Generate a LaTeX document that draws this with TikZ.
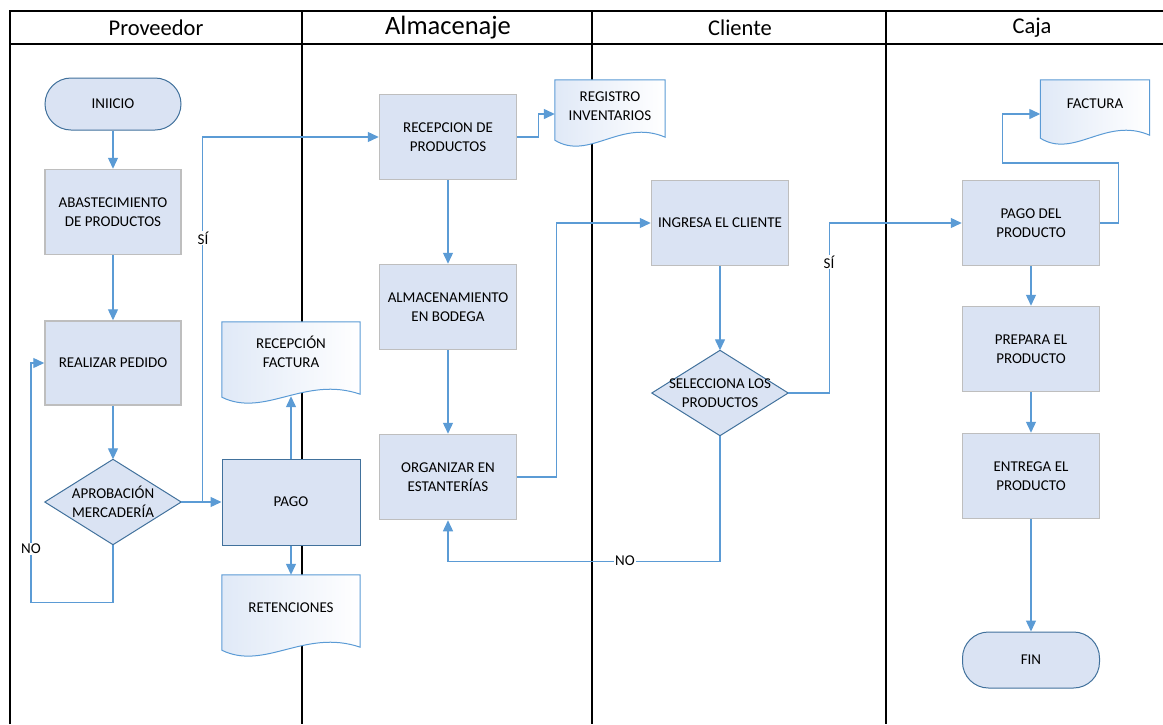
\documentclass[tikz,border=0pt]{standalone}
\usepackage{fontspec}
\setmainfont{Carlito}
\usetikzlibrary{arrows.meta,calc}
\pgfdeclarelayer{background}
\pgfsetlayers{background,main}

\definecolor{boxfill}{RGB}{218,227,243}
\definecolor{boxedge}{RGB}{190,190,190}
\definecolor{flowblue}{RGB}{91,155,213}
\definecolor{darkblue}{RGB}{65,113,156}
\definecolor{docshade}{RGB}{224,233,247}

% wavy document outline behind a text node (#2 = drop of the wave)
\newcommand{\docoutline}[2]{%
  \begin{pgfonlayer}{background}
  \draw[docline] (#1.north west) -- (#1.north east) -- ([yshift=3pt-#2pt]#1.south east)
    .. controls ($(#1.south west)!0.6!(#1.south east)+(0,#2-22)$) and ($(#1.south west)!0.31!(#1.south east)+(0,#2+21)$)
    .. ([yshift=-#2pt]#1.south west) -- cycle;
  \end{pgfonlayer}}

% diamond outline behind a decision node
\newcommand{\diamondoutline}[1]{%
  \begin{pgfonlayer}{background}
  \draw[diamondline] (#1.north) -- (#1.east) -- (#1.south) -- (#1.west) -- cycle;
  \end{pgfonlayer}}

\begin{document}
\begin{tikzpicture}[x=1pt, y=-1pt,
  font=\fontsize{15}{19}\selectfont,
  lane/.style={black, line width=1.2pt},
  head/.style={font=\fontsize{22.5}{26}\selectfont},
  proc/.style={draw=boxedge, fill=boxfill, line width=1.5pt, minimum width=137pt, minimum height=85pt, align=center, inner sep=2pt},
  term/.style={draw=darkblue, fill=boxfill, line width=1pt, rounded corners=26pt, minimum width=136pt, minimum height=52pt},
  decision/.style={minimum width=136pt, minimum height=85pt, align=center, inner sep=0pt},
  docnode/.style={minimum width=138pt, align=center, inner sep=0pt},
  docline/.style={draw=flowblue, line width=1pt, left color=docshade, right color=white},
  diamondline/.style={draw=darkblue, fill=boxfill, line width=1pt},
  flow/.style={draw=flowblue, line width=1.3pt, -{Triangle[length=11pt,width=10pt]}},
  lbl/.style={fill=white, inner sep=1pt}]
  \useasboundingbox (0,0) rectangle (1163,724);

  % draw swimlanes
  \begin{pgfonlayer}{background}
  \draw[lane] (10,724) -- (10,11) -- (1163,11);
  \draw[lane] (10,44) -- (1163,44);
  \draw[lane] (302,11) -- (302,724);
  \draw[lane] (592,11) -- (592,724);
  \draw[lane] (886,11) -- (886,724);
  \end{pgfonlayer}
  \node[head] (hdr_prov) at (156,28) {Proveedor};
  \node[head, font=\fontsize{26.5}{30}\selectfont] (hdr_alm) at (448,28) {Almacenaje};
  \node[head] (hdr_cli) at (740,28) {Cliente};
  \node[head] (hdr_caja) at (1032,28) {Caja};

  % Proveedor lane
  \node[term] (ini) at (113,104) {INIICIO};
  \node[proc, minimum width=136pt] (abast) at (113,212) {ABASTECIMIENTO\\DE PRODUCTOS};
  \node[proc, minimum width=136pt, minimum height=84pt] (ped) at (113,363) {REALIZAR PEDIDO};
  \node[decision] (apr) at (113,502) {APROBACIÓN\\MERCADERÍA};
  \diamondoutline{apr}
  \node[proc, draw=darkblue, line width=1pt, minimum width=138pt, minimum height=86pt] (pago) at (291,502) {PAGO};
  \node[docnode, minimum height=60pt] (fac_rec) at (291,352) {RECEPCIÓN\\FACTURA};
  \docoutline{fac_rec}{15}
  \node[docnode, minimum height=66pt] (ret) at (291,608) {RETENCIONES};
  \docoutline{ret}{9}

  % Almacenaje lane
  \node[proc] (rec_prod) at (448,137) {RECEPCION DE\\PRODUCTOS};
  \node[docnode, minimum width=110pt, minimum height=52pt] (reg_inv) at (610,106) {REGISTRO\\INVENTARIOS};
  \docoutline{reg_inv}{8}
  \node[proc] (alm) at (448,307) {ALMACENAMIENTO\\EN BODEGA};
  \node[proc] (org) at (448,477) {ORGANIZAR EN\\ESTANTERÍAS};

  % Cliente lane
  \node[proc] (ing) at (720,223) {INGRESA EL CLIENTE};
  \node[decision] (sel) at (720,393) {SELECCIONA LOS\\PRODUCTOS};
  \diamondoutline{sel}

  % Caja lane
  \node[docnode, minimum width=109pt, minimum height=48pt] (fact) at (1095,104) {FACTURA};
  \docoutline{fact}{10}
  \node[proc] (pago_prod) at (1031,223) {PAGO DEL\\PRODUCTO};
  \node[proc] (prep) at (1031,349) {PREPARA EL\\PRODUCTO};
  \node[proc] (ent) at (1031,476) {ENTREGA EL\\PRODUCTO};
  \node[term, minimum width=137pt, minimum height=56pt] (fin) at (1031,660) {FIN};

  % draw connectors
  \draw[flow] (ini) -- (abast);
  \draw[flow] (abast) -- (ped);
  \draw[flow] (ped) -- (apr);
  \draw[flow] (apr) -- (pago);
  \draw[flow] (apr.east) -- ++(21,0) |- (rec_prod.west);
  \draw[flow] (apr.south) -- ++(0,58) -- ++(-82,0) |- (ped.west);
  \node[lbl] (si_apr) at (203,238) {SÍ};
  \node[lbl] (no_apr) at (31,549) {NO};
  \draw[flow] (pago) -- ([yshift=-14pt]fac_rec.south);
  \draw[flow] (pago) -- (ret);
  \draw[flow] (rec_prod.east) -- ++(21,0) |- ([yshift=-8pt]reg_inv.west);
  \draw[flow] (rec_prod) -- (alm);
  \draw[flow] (alm) -- (org);
  \draw[flow] (org.east) -- ++(39,0) |- (ing.west);
  \draw[flow] (ing) -- (sel);
  \draw[flow] (sel.south) -- ++(0,126) -| (org.south);
  \node[lbl] (no_sel) at (625,561) {NO};
  \draw[flow] (sel.east) -- ++(41,0) |- (pago_prod.west);
  \node[lbl] (si_sel) at (829,262) {SÍ};
  \draw[flow] (pago_prod.east) -- ++(18,0) -- ++(0,-60) -- ++(-116,0) |- ([yshift=-10pt]fact.west);
  \draw[flow] (pago_prod) -- (prep);
  \draw[flow] (prep) -- (ent);
  \draw[flow] (ent) -- (fin);
\end{tikzpicture}
\end{document}
